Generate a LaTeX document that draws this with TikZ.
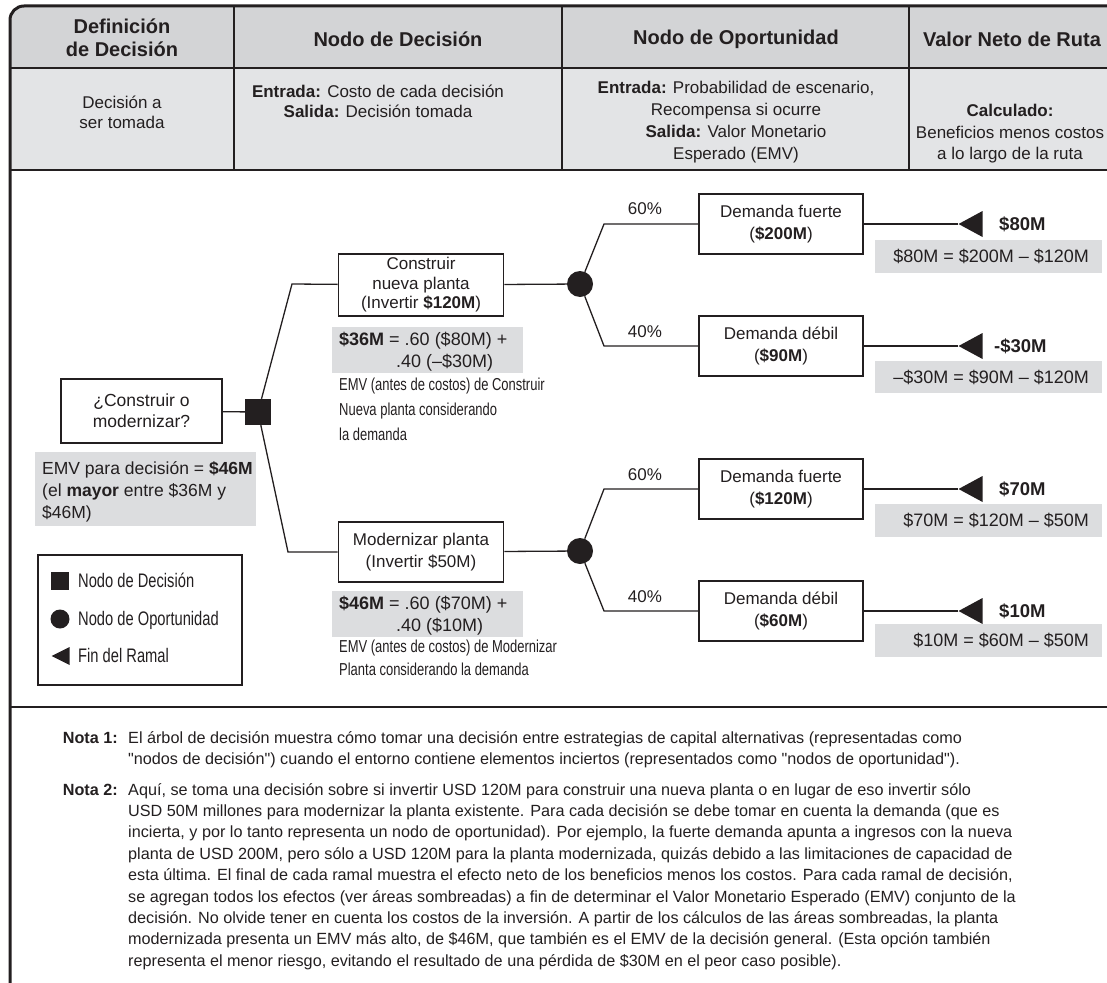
\documentclass[tikz,border=0pt]{standalone}
\usepackage{fontspec}
\setmainfont{Liberation Sans}
\newfontfamily\condf[FakeStretch=0.75]{Liberation Sans}
\newfontfamily\qf{Liberation Sans}
\newcommand\dq{{\qf\symbol{34}}}
\usetikzlibrary{shapes.geometric}
\definecolor{hdr}{HTML}{D3D4D6}
\definecolor{rowg}{HTML}{E3E4E6}
\definecolor{shd}{HTML}{DCDDDF}
\definecolor{ink}{HTML}{231F20}
\newcommand\fsz[2]{\fontsize{#1}{#2}\selectfont}
\begin{document}
\begin{tikzpicture}[x=1pt,y=-1pt,
  every node/.style={inner sep=0pt, text=ink},
  hd/.style={font=\fsz{20}{23}\bfseries, align=center},
  body/.style={font=\fsz{17}{20}, align=center},
  tbox/.style={draw=ink, line width=1.8pt, fill=white, align=center,
     minimum width=164pt, minimum height=60pt, font=\fsz{17}{22}},
  conn/.style={draw=ink, line width=1.3pt},
  rule/.style={draw=ink, line width=2pt},
  gbox/.style={fill=shd},
  gtxt/.style={font=\fsz{18}{22}},
  vlab/.style={font=\fsz{18.5}{22}\bfseries, anchor=base west},
  pct/.style={font=\fsz{17}{20}},
  cnote/.style={font=\condf\fsz{17.3}{20}, anchor=base west},
  lg/.style={font=\condf\fsz{19.6}{20}, anchor=base west},
  tri/.style={isosceles triangle, isosceles triangle stretches, shape border rotate=180,
     fill=ink, minimum width=26pt, minimum height=24pt, anchor=apex},
  dot/.style={circle, fill=ink, minimum size=26pt},
  nt/.style={font=\fsz{16.2}{21.4}, anchor=base west},
  ntl/.style={font=\fsz{16.2}{21.4}\bfseries, anchor=base east}
]
\useasboundingbox (0,0) rectangle (1107,982);

% ---------- table header ----------
\fill[hdr] (10,68) [rounded corners=14pt] -- (10,6) -- (1130,6) [sharp corners] -- (1130,68) -- cycle;
\fill[rowg] (10,68) rectangle (1130,170);
\draw[rule] (10,68) -- (1130,68);
\draw[rule, line width=2.6pt] (10,170) -- (1130,170);
\draw[rule] (234,6) -- (234,170);
\draw[rule] (562,6) -- (562,170);
\draw[rule] (909,6) -- (909,170);
\draw[rule, line width=3pt, rounded corners=14pt] (10,1000) -- (10,6) -- (1130,6);
\draw[rule, line width=2.6pt] (10,707) -- (1130,707);

\node[hd] (h1) at (122,38) {Definición\\de Decisión};
\node[hd] (h2) at (398,39) {Nodo de Decisión};
\node[hd] (h3) at (736,39) {Nodo de Oportunidad};
\node[hd] (h4) at (1012,39) {Valor Neto de Ruta};

\node[body] (r1) at (122,112) {Decisión a\\ser tomada};
\node[body] (r2) at (378,101.5) {\textbf{Entrada:} Costo de cada decisión\\\textbf{Salida:} Decisión tomada};
\node[body, font=\fsz{17}{22}] (r3) at (736,122) {\textbf{Entrada:} Probabilidad de escenario,\\Recompensa si ocurre\\\textbf{Salida:} Valor Monetario\\Esperado (EMV)};
\node[body, font=\fsz{17}{21.5}] (r4) at (1010,134) {\textbf{Calculado:}\\Beneficios menos costos\\a lo largo de la ruta};

% ---------- tree ----------
\node[tbox, minimum width=161pt, minimum height=64pt, font=\fsz{17.5}{21}] (root) at (141.5,411) {¿Construir o\\modernizar?};
\node[fill=ink, minimum size=26pt] (sq) at (258,412) {};
\node[tbox, minimum width=165pt, minimum height=62pt, font=\fsz{17}{19.5}] (b1) at (421,285) {Construir\\nueva planta\\(Invertir \textbf{\$120M})};
\node[tbox, minimum width=165pt, minimum height=60pt] (b2) at (421,552) {Modernizar planta\\(Invertir \$50M)};
\node[dot] (c1) at (580,284) {};
\node[dot] (c2) at (580,551) {};
\node[tbox] (d1) at (781,224) {Demanda fuerte\\(\textbf{\$200M})};
\node[tbox] (d2) at (781,346) {Demanda débil\\(\textbf{\$90M})};
\node[tbox] (d3) at (781,489) {Demanda fuerte\\(\textbf{\$120M})};
\node[tbox] (d4) at (781,611) {Demanda débil\\(\textbf{\$60M})};
\node[tri] (t1) at (958,224) {};
\node[tri] (t2) at (958,346) {};
\node[tri] (t3) at (958,489) {};
\node[tri] (t4) at (958,611) {};

\coordinate (k1) at (292,284);
\coordinate (k2) at (288,552);
\coordinate (e1) at (604,224);
\coordinate (e2) at (604,346);
\coordinate (e3) at (604,489);
\coordinate (e4) at (604,611);

\draw[conn] (root) -- (sq);
\draw[conn] (sq) -- (k1) -- (b1);
\draw[conn] (sq) -- (k2) -- (b2);
\draw[conn] (b1) -- (c1);
\draw[conn] (b2) -- (c2);
\draw[conn] (c1) -- (e1) -- (d1);
\draw[conn] (c1) -- (e2) -- (d2);
\draw[conn] (c2) -- (e3) -- (d3);
\draw[conn] (c2) -- (e4) -- (d4);
\draw[conn] (d1) -- (t1.apex);
\draw[conn] (d2) -- (t2.apex);
\draw[conn] (d3) -- (t3.apex);
\draw[conn] (d4) -- (t4.apex);

\node[pct] (p1) at (645,209) {60\%};
\node[pct] (p2) at (645,332) {40\%};
\node[pct] (p3) at (645,475) {60\%};
\node[pct] (p4) at (645,597) {40\%};

\node[vlab] (v1) at (999,230) {\$80M};
\node[vlab] (v2) at (994,352) {-\$30M};
\node[vlab] (v3) at (999,495) {\$70M};
\node[vlab] (v4) at (999,617) {\$10M};

\node[gbox, minimum width=227pt, minimum height=33pt] (g1) at (988.5,256.5) {};
\node[gbox, minimum width=227pt, minimum height=32pt] (g2) at (988.5,377) {};
\node[gbox, minimum width=227pt, minimum height=33pt] (g3) at (988.5,520.5) {};
\node[gbox, minimum width=227pt, minimum height=33pt] (g4) at (988.5,640.5) {};
\node[gtxt, anchor=east] (gt1) at ([xshift=-13pt]g1.east) {\$80M = \$200M – \$120M};
\node[gtxt, anchor=east] (gt2) at ([xshift=-13pt]g2.east) {–\$30M = \$90M – \$120M};
\node[gtxt, anchor=east] (gt3) at ([xshift=-13pt]g3.east) {\$70M = \$120M – \$50M};
\node[gtxt, anchor=east] (gt4) at ([xshift=-13pt]g4.east) {\$10M = \$60M – \$50M};

% shaded EMV boxes under decision branches
\node[gbox, minimum width=191pt, minimum height=46pt] (s1) at (427.5,350) {};
\node[gtxt, anchor=base west] (s1a) at (339,345.5) {\textbf{\$36M} = .60 (\$80M) +};
\node[gtxt, anchor=base west] (s1b) at (396,367.5) {.40 (–\$30M)};
\node[cnote] (n1a) at (339,390) {EMV (antes de costos) de Construir};
\node[cnote] (n1b) at (339,415) {Nueva planta considerando};
\node[cnote] (n1c) at (339,440) {la demanda};

\node[gbox, minimum width=191pt, minimum height=46pt] (s2) at (427.5,614) {};
\node[gtxt, anchor=base west] (s2a) at (339,609.5) {\textbf{\$46M} = .60 (\$70M) +};
\node[gtxt, anchor=base west] (s2b) at (396,631) {.40 (\$10M)};
\node[cnote] (n2a) at (339,652) {EMV (antes de costos) de Modernizar};
\node[cnote] (n2b) at (339,675) {Planta considerando la demanda};

% decision EMV
\node[gbox, minimum width=221pt, minimum height=74pt] (s0) at (145.5,489) {};
\node[gtxt, font=\fsz{17.5}{22}, anchor=base west] (s0a) at (42,474) {EMV para decisión = \textbf{\$46M}};
\node[gtxt, font=\fsz{17.5}{22}, anchor=base west] (s0b) at (42,496) {(el \textbf{mayor} entre \$36M y};
\node[gtxt, font=\fsz{17.5}{22}, anchor=base west] (s0c) at (42,518) {\$46M)};

% legend
\node[draw=ink, line width=1.8pt, minimum width=204pt, minimum height=130pt] (leg) at (140,620) {};
\node[fill=ink, minimum size=18pt] (lsq) at (60,581) {};
\node[dot, minimum size=19pt] (lci) at (60,619) {};
\node[tri, minimum width=18pt, minimum height=18pt] (ltr) at (51,656) {};
\node[lg] (l1) at (78,587) {Nodo de Decisión};
\node[lg] (l2) at (78,625) {Nodo de Oportunidad};
\node[lg] (l3) at (78,662) {Fin del Ramal};

% ---------- notes ----------
\node[ntl] (nl1) at (118,743) {Nota 1:};
\node[nt] (na1) at (128,743) {El árbol de decisión muestra cómo tomar una decisión entre estrategias de capital alternativas (representadas como};
\node[nt] (na2) at (128,764.4) {\dq nodos de decisión\dq) cuando el entorno contiene elementos inciertos (representados como \dq nodos de oportunidad\dq).};
\node[ntl] (nl2) at (118,795) {Nota 2:};
\node[nt] (nb1) at (128,795) {Aquí, se toma una decisión sobre si invertir USD 120M para construir una nueva planta o en lugar de eso invertir sólo};
\node[nt] (nb2) at (128,816.4) {USD 50M millones para modernizar la planta existente. Para cada decisión se debe tomar en cuenta la demanda (que es};
\node[nt] (nb3) at (128,837.8) {incierta, y por lo tanto representa un nodo de oportunidad). Por ejemplo, la fuerte demanda apunta a ingresos con la nueva};
\node[nt] (nb4) at (128,859.2) {planta de USD 200M, pero sólo a USD 120M para la planta modernizada, quizás debido a las limitaciones de capacidad de};
\node[nt] (nb5) at (128,880.6) {esta última. El final de cada ramal muestra el efecto neto de los beneficios menos los costos. Para cada ramal de decisión,};
\node[nt] (nb6) at (128,902) {se agregan todos los efectos (ver áreas sombreadas) a fin de determinar el Valor Monetario Esperado (EMV) conjunto de la};
\node[nt] (nb7) at (128,923.4) {decisión. No olvide tener en cuenta los costos de la inversión. A partir de los cálculos de las áreas sombreadas, la planta};
\node[nt] (nb8) at (128,944.8) {modernizada presenta un EMV más alto, de \$46M, que también es el EMV de la decisión general. (Esta opción también};
\node[nt] (nb9) at (128,966.2) {representa el menor riesgo, evitando el resultado de una pérdida de \$30M en el peor caso posible).};
\end{tikzpicture}
\end{document}
